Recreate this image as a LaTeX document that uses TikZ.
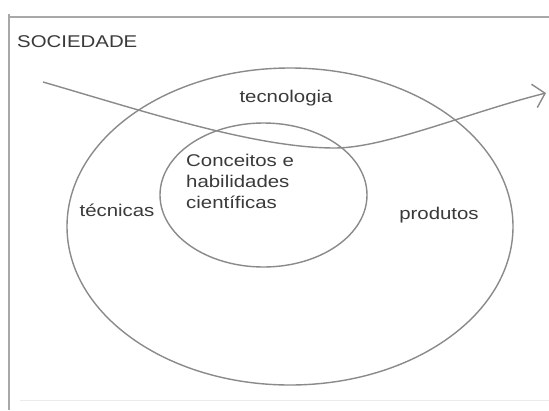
\documentclass[tikz,border=0pt]{standalone}
\usepackage{fontspec}
\setmainfont{Liberation Sans}[FakeStretch=1.2]
\usetikzlibrary{arrows.meta,shapes.geometric}
\definecolor{linegray}{HTML}{8A8A8A}
\definecolor{framegray}{HTML}{A8A8A8}
\definecolor{textgray}{HTML}{3A3A3A}
\tikzset{
  ring/.style={draw=linegray, line width=1.4pt, ellipse, inner sep=0pt},
  label/.style={text=textgray, font=\fontsize{17}{21}\selectfont, inner sep=0pt},
  flow/.style={draw=linegray, line width=1.4pt,
    -{Straight Barb[length=11pt,width=24pt,line width=1.4pt]}},
}
\begin{document}
\begin{tikzpicture}[x=1pt,y=-1pt]
  \useasboundingbox (0,0) rectangle (549,410);
  \fill[white] (0,0) rectangle (549,410);
  % frame
  \draw[framegray, line width=2pt] (8,17) -- (549,17);
  \draw[framegray, line width=2pt] (9,14) -- (9,410);
  \draw[black!8, line width=1pt] (20,400) -- (549,400);
  % society label
  \node[label, anchor=west] (soc) at (17,42) {SOCIEDADE};
  % circles
  \node[ring, minimum width=446pt, minimum height=317pt] (outer) at (290,226.5) {};
  \node[ring, minimum width=207pt, minimum height=144pt] (inner) at (263.5,195) {};
  % labels
  \node[label] (tec) at (286,98) {tecnologia};
  \node[label, anchor=west, align=left] (core) at (186,181)
    {Conceitos e\\habilidades\\científicas};
  \node[label] (tecn) at (117,210) {técnicas};
  \node[label] (prod) at (439,215) {produtos};
  % crossing arrow
  \coordinate (s) at (43,82);
  \coordinate (m) at (335,148);
  \coordinate (e) at (546,93);
  \draw[flow] (s) .. controls (143,111) and (255,148) .. (m)
    .. controls (385,148) and (470,112) .. (e);
\end{tikzpicture}
\end{document}
